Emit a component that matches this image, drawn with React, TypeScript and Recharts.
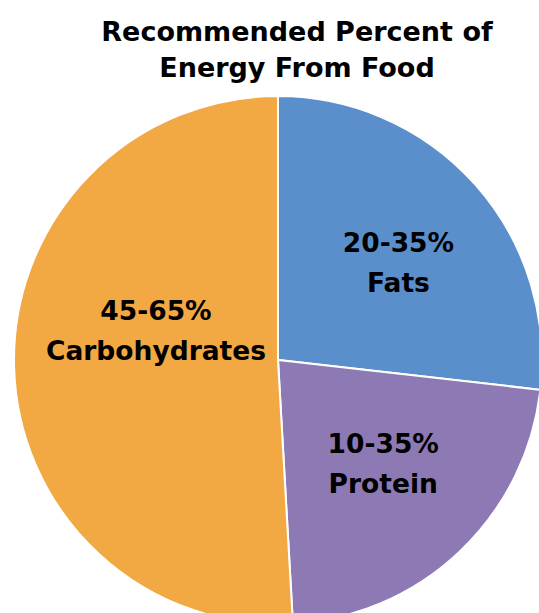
import React from 'react';
import { PieChart, Pie, Cell } from 'recharts';

const names = ['Fats', 'Protein', 'Carbohydrates'];
const ranges = ['20-35%', '10-35%', '45-65%'];
const shares = [26.8, 22.3, 50.9];
const colors = ['#5B8FCB', '#8D7AB4', '#F2A843'];

const data = names.map((name, i) => ({ name, range: ranges[i], value: shares[i] }));

const RAD = Math.PI / 180;
const FONT = '"DejaVu Sans", sans-serif';

const renderLabel = (props: any) => {
    const { cx, cy, midAngle, outerRadius, index } = props;
    const entry = data[index];
    // nudge labels a little off the mid angle, like the original
    const shift = [-3, 2, -15][index];
    const ratio = [0.585, 0.56, 0.475][index];
    const angle = midAngle + shift;
    const r = outerRadius * ratio;
    const x = cx + r * Math.cos(-angle * RAD);
    const y = cy + r * Math.sin(-angle * RAD);
    return (
        <text
            x={x}
            y={y}
            textAnchor="middle"
            fill="#000"
            fontFamily={FONT}
            fontWeight={700}
            fontSize={26.5}
        >
            <tspan x={x} dy={-11}>{entry.range}</tspan>
            <tspan x={x} dy={40}>{entry.name}</tspan>
        </text>
    );
};

export default function App() {
    return (
        <div style={{ position: 'absolute', left: 0, top: 0, width: 539, height: 613, background: '#fff' }}>
            <div
                style={{
                    position: 'absolute',
                    left: 0,
                    top: 14,
                    width: 594,
                    textAlign: 'center',
                    fontFamily: FONT,
                    fontWeight: 700,
                    fontSize: 27,
                    lineHeight: '36px',
                    color: '#000',
                }}
            >
                Recommended Percent of
                <br />
                Energy From Food
            </div>
            <PieChart width={539} height={613} margin={{ top: 0, right: 0, bottom: 0, left: 0 }}>
                <Pie
                    data={data}
                    dataKey="value"
                    nameKey="name"
                    cx={278}
                    cy={360}
                    outerRadius={264}
                    startAngle={90}
                    endAngle={-270}
                    stroke="#fff"
                    strokeWidth={2}
                    label={renderLabel}
                    labelLine={false}
                    isAnimationActive={false}
                >
                    {data.map((d, i) => (
                        <Cell key={d.name} fill={colors[i]} />
                    ))}
                </Pie>
            </PieChart>
        </div>
    );
}
